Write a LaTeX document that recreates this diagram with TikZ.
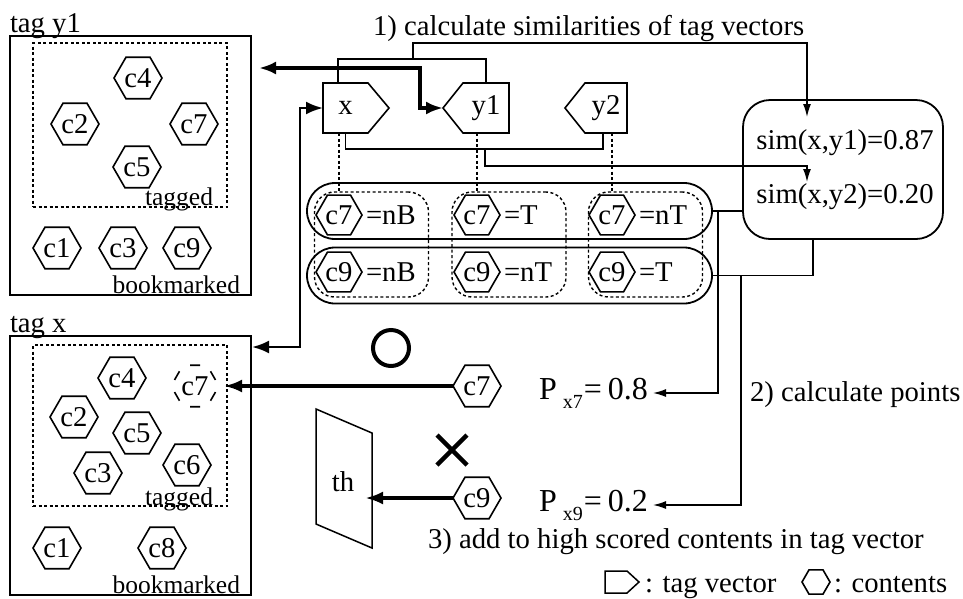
\documentclass[tikz,border=0pt]{standalone}
\usepackage{fontspec}
\setmainfont{Liberation Serif}
\usetikzlibrary{arrows.meta,shapes.geometric,calc}

\begin{document}
\begin{tikzpicture}[x=1pt,y=-1pt,
  font=\fontsize{28.7}{32}\selectfont,
  every node/.style={inner sep=0pt, outer sep=0pt},
  panel/.style={draw, line width=2pt},
  zone/.style={draw, line width=1.4pt, dash pattern=on 3pt off 2.5pt},
  small/.style={font=\fontsize{25.5}{28}\selectfont},
  hex/.style={regular polygon, regular polygon sides=6, draw, line width=1.6pt, minimum size=48pt},
  rhex/.style={hex, minimum size=46pt},
  ghosthex/.style={regular polygon, regular polygon sides=6, minimum size=48pt},
  tvbody/.style={minimum height=50pt},
  outline/.style={line width=1.6pt, line join=miter},
  link/.style={line width=1.5pt},
  dline/.style={line width=1.4pt, dash pattern=on 3pt off 2.5pt},
  tip/.style={-{Latex[length=13pt,width=8pt]}},
  heavy/.style={line width=3.6pt},
  bigtip/.style={-{Latex[length=18pt,width=13pt]}},
  bothtips/.style={{Latex[length=17pt,width=13pt]}-{Latex[length=17pt,width=13pt]}},
  rowbox/.style={draw, line width=1.8pt, rounded corners=28pt, minimum width=405pt, minimum height=56pt},
  colbox/.style={draw, line width=1.4pt, dash pattern=on 3pt off 2.5pt, rounded corners=20pt, minimum width=114pt, minimum height=105pt},
  pval/.style={font=\fontsize{32}{36}\selectfont, inner xsep=5pt, inner ysep=0pt}
]
\useasboundingbox (0,0) rectangle (963,598);

% ---------- tag y1 panel ----------
\node[panel, minimum width=241pt, minimum height=259pt] (py) at (130.5,165.5) {};
\node[anchor=base west] (py-title) at (10,32) {tag y1};
\node[zone, minimum width=194pt, minimum height=164pt] (py-zone) at (130,125) {};
\node[small, anchor=base east] (py-tagged) at (213,205) {tagged};
\node[small, anchor=base east] (py-book) at (240,293) {bookmarked};
\node[hex] (py4) at (138,78) {c4};
\node[hex] (py2) at (75,124) {c2};
\node[hex] (py7) at (194,124) {c7};
\node[hex] (py5) at (137,167) {c5};
\node[hex] (py1) at (57,248) {c1};
\node[hex] (py3) at (123,248) {c3};
\node[hex] (py9) at (187,248) {c9};

% ---------- tag x panel ----------
\node[panel, minimum width=241pt, minimum height=259pt] (px) at (130.5,465.5) {};
\node[anchor=base west] (px-title) at (10,332) {tag x};
\node[zone, minimum width=194pt, minimum height=161pt] (px-zone) at (130,425.5) {};
\node[small, anchor=base east] (px-tagged) at (213,505) {tagged};
\node[small, anchor=base east] (px-book) at (240,593) {bookmarked};
\node[hex] (px4) at (122,378) {c4};
\node[ghosthex] (px7) at (195,386) {c7};
\draw[line width=1.6pt, dash pattern=on 10pt off 14pt, dash phase=17pt]
  (px7.corner 1) -- (px7.corner 2) -- (px7.corner 3) -- (px7.corner 4)
  -- (px7.corner 5) -- (px7.corner 6) -- cycle;
\node[hex] (px2) at (74,417) {c2};
\node[hex] (px5) at (137,433) {c5};
\node[hex] (px3) at (98,473) {c3};
\node[hex] (px6) at (187,465) {c6};
\node[hex] (px1) at (57,548) {c1};
\node[hex] (px8) at (162,548) {c8};

% ---------- tag vectors ----------
\node[anchor=base west] (step1) at (373,35) {1) calculate similarities of tag vectors};
\node[tvbody, minimum width=45pt] (x) at (345.5,108) {x};
\node[tvbody, minimum width=46pt] (y1) at (486,108) {y1};
\node[tvbody, minimum width=42pt] (y2) at (606,108) {y2};
\draw[outline] (x.north west) -- (x.north east) -- ([xshift=21pt]x.east)
  -- (x.south east) -- (x.south west) -- cycle;
\draw[outline] (y1.north east) -- (y1.north west) -- ([xshift=-20pt]y1.west)
  -- (y1.south west) -- (y1.south east) -- cycle;
\draw[outline] (y2.north east) -- (y2.north west) -- ([xshift=-20pt]y2.west)
  -- (y2.south west) -- (y2.south east) -- cycle;

% ---------- similarity box ----------
\node[draw, line width=1.8pt, rounded corners=27pt, minimum width=200pt, minimum height=139pt] (sim) at (843,169.5) {};
\node (s1) at (845,143) {sim(x,y1)=0.87};
\node (s2) at (845,197) {sim(x,y2)=0.20};
\coordinate (s1in) at (807,117);
\coordinate (s2in) at (807,182);

% ---------- content rows ----------
\node[rowbox] (row1) at (509.5,211) {};
\node[rowbox] (row2) at (509.5,275.5) {};
\node[colbox] (g1) at (371.5,244.5) {};
\node[colbox] (g2) at (509,244.5) {};
\node[colbox] (g3) at (645.5,244.5) {};
\node[rhex] (r1a) at (339,215) {c7};
\node[rhex] (r1b) at (477,215) {c7};
\node[rhex] (r1c) at (612,215) {c7};
\node[rhex] (r2a) at (339,272) {c9};
\node[rhex] (r2b) at (477,272) {c9};
\node[rhex] (r2c) at (612,272) {c9};
\node[anchor=west] (v1a) at ([xshift=4pt]r1a.east) {=nB};
\node[anchor=west] (v1b) at ([xshift=4pt]r1b.east) {=T};
\node[anchor=west] (v1c) at ([xshift=4pt]r1c.east) {=nT};
\node[anchor=west] (v2a) at ([xshift=4pt]r2a.east) {=nB};
\node[anchor=west] (v2b) at ([xshift=4pt]r2b.east) {=nT};
\node[anchor=west] (v2c) at ([xshift=4pt]r2c.east) {=T};

% dotted drops from each tag vector to its column
\draw[dline] (x.south -| r1a) -- (g1.north -| r1a);
\draw[dline] (y1.south -| r1b) -- (g2.north -| r1b);
\draw[dline] (y2.south -| r1c) -- (g3.north -| r1c);

% pairing brackets feeding the similarity box
\coordinate (xy1) at (413,59);
\coordinate (xy2) at (485,149);
\draw[link] ([xshift=-7.5pt]x.north) |- (xy1) -| (y1.north);
\draw[link, tip] (xy1) -- (413,43) -| (s1in);
\draw[link] (x.south) |- (xy2) -| ([xshift=-3pt]y2.south);
\draw[link, tip] (xy2) -- (485,166) -| (s2in);

% ---------- points ----------
\node[pval, anchor=east] (px7v) at (653,393) {P\hspace{6pt}\raisebox{-9pt}{\fontsize{20}{22}\selectfont x7}\hspace{1pt}=\hspace{6pt}0.8};
\node[pval, anchor=east] (px9v) at (653,505) {P\hspace{6pt}\raisebox{-9pt}{\fontsize{20}{22}\selectfont x9}\hspace{1pt}=\hspace{6pt}0.2};
\node[anchor=base west] (step2) at (750,401) {2) calculate points};
\coordinate (r1j) at (718,211);
\coordinate (r2j) at (741,275.5);
\draw[link] (row1.east) -- (row1.east -| sim.west);
\draw[link, tip] (r1j) |- (px7v.east);
\draw[link] (row2.east) -| ([xshift=-30pt]sim.south);
\draw[link, tip] (r2j) |- (px9v.east);

% ---------- decision ----------
\node[hex] (c7out) at (477,386) {c7};
\node[hex] (c9out) at (477,498) {c9};
\node[draw, circle, line width=4pt, minimum size=36pt] (okmark) at (391,348) {};
\draw[line width=4.5pt] (437,435) -- (467,465) (437,465) -- (467,435);
\node[minimum width=56pt, minimum height=139pt] (th) at (344,478.5) {};
\draw[line width=1.5pt] (th.north west) -- ([yshift=-24pt]th.north east) -- (th.south east)
  -- ([yshift=24pt]th.south west) -- cycle;
\node (thlabel) at (343,482) {th};
\coordinate (thin) at (365,498);
\coordinate (pxin) at (224,386);
\draw[heavy, bigtip] (c7out.west) -- (pxin);
\draw[heavy, bigtip] (c9out.west) -- (thin);
\node[anchor=base west] (step3) at (428,548) {3) add to high scored contents in tag vector};

% ---------- updates of the tag vectors ----------
\coordinate (pyin) at (259,68);
\coordinate (pxbox) at (252,347);
\draw[heavy, bothtips] ([xshift=-20pt]y1.west) -- ++(-23,0) |- (pyin);
\draw[line width=2.6pt, bothtips] (x.west) -- ++(-23,0) |- (pxbox);

% ---------- legend ----------
\node[minimum width=22pt, minimum height=22pt] (lv) at (616,582) {};
\draw[line width=1.5pt] (lv.north west) -- (lv.north east) -- ([xshift=12pt]lv.east)
  -- (lv.south east) -- (lv.south west) -- cycle;
\node[anchor=base west] (lvtext) at (645,592) {: tag vector};
\node[hex, minimum size=28pt] (lh) at (816,582) {};
\node[anchor=base west] (lhtext) at (834,592) {: contents};
\end{tikzpicture}
\end{document}
